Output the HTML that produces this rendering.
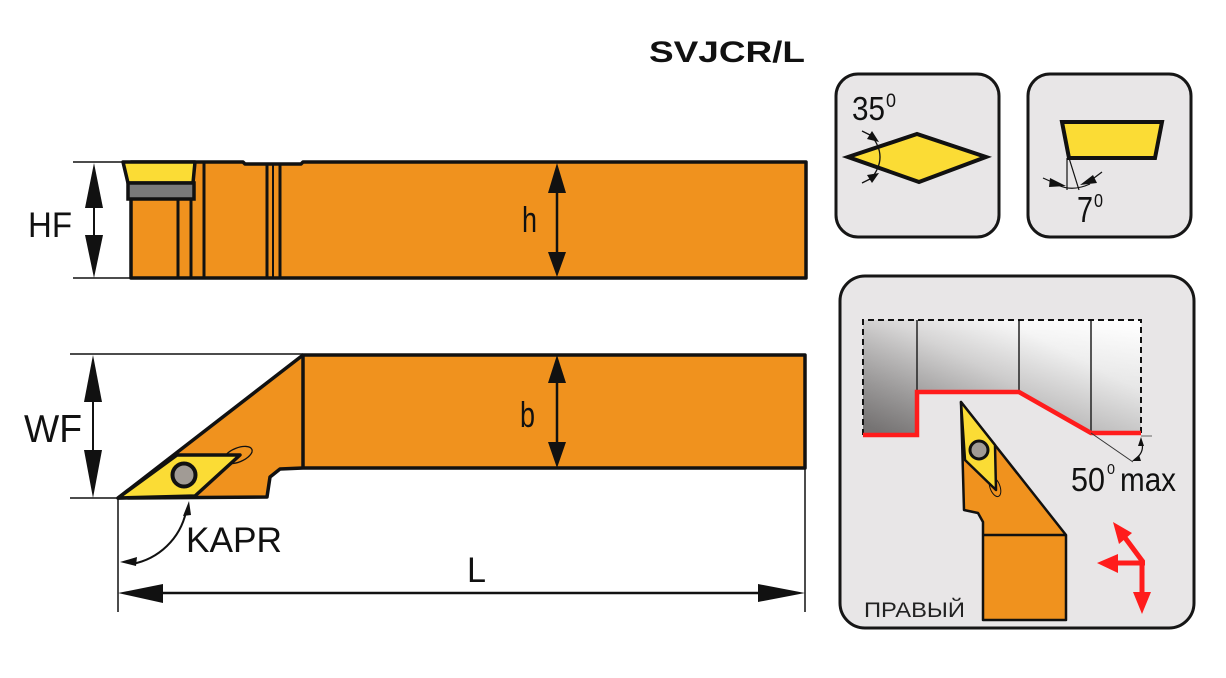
<!DOCTYPE html>
<html><head><meta charset="utf-8"><style>
html,body{margin:0;padding:0;background:#fff;}
svg{display:block;}
text{font-family:"Liberation Sans",sans-serif;}
</style></head><body>
<svg width="1226" height="678" viewBox="0 0 1226 678" xmlns="http://www.w3.org/2000/svg">
<defs>
<linearGradient id="gw" x1="0" y1="0.9" x2="1" y2="0.1">
<stop offset="0" stop-color="#858282"/>
<stop offset="0.2" stop-color="#a6a4a4"/>
<stop offset="0.5" stop-color="#dad9d9"/>
<stop offset="0.75" stop-color="#f8f8f8"/>
<stop offset="1" stop-color="#ffffff"/>
</linearGradient>
<linearGradient id="gv" x1="0" y1="0" x2="0" y2="1">
<stop offset="0" stop-color="#000" stop-opacity="0"/>
<stop offset="1" stop-color="#000" stop-opacity="0.12"/>
</linearGradient>
</defs>

<!-- Title -->
<text x="649" y="62" font-size="30" font-weight="bold" textLength="156" lengthAdjust="spacingAndGlyphs" fill="#111">SVJCR/L</text>

<!-- ===== Side view ===== -->
<polygon points="131,162 243,162 245,164 301,164 303,162 806,162 806,278 131,278" fill="#f0921e" stroke="#111" stroke-width="3.5" stroke-linejoin="round"/>
<polygon points="123,162 195,162 193,183 128,183" fill="#fbdc35" stroke="#111" stroke-width="3.5" stroke-linejoin="round"/>
<rect x="128" y="183" width="66" height="16" fill="#7a7a7a" stroke="#111" stroke-width="3.5"/>
<line x1="178" y1="199" x2="178" y2="278" stroke="#111" stroke-width="3"/>
<line x1="191" y1="199" x2="191" y2="278" stroke="#111" stroke-width="3"/>
<line x1="204" y1="163" x2="204" y2="278" stroke="#111" stroke-width="3"/>
<line x1="267" y1="163" x2="267" y2="278" stroke="#111" stroke-width="3"/>
<line x1="273" y1="163" x2="273" y2="278" stroke="#111" stroke-width="2"/>
<line x1="280" y1="163" x2="280" y2="278" stroke="#111" stroke-width="3"/>

<!-- h dim -->
<line x1="557" y1="185" x2="557" y2="258" stroke="#111" stroke-width="2.5"/>
<polygon points="557,163 548,193 566,193" fill="#111"/>
<polygon points="557,277 548,252 566,252" fill="#111"/>
<text x="522" y="232" font-size="36" textLength="15" lengthAdjust="spacingAndGlyphs" fill="#111">h</text>

<!-- HF dim -->
<line x1="73" y1="162" x2="123" y2="162" stroke="#111" stroke-width="1.5"/>
<line x1="73" y1="278" x2="131" y2="278" stroke="#111" stroke-width="1.5"/>
<line x1="94" y1="200" x2="94" y2="240" stroke="#111" stroke-width="2"/>
<polygon points="94,163 85,208 103,208" fill="#111"/>
<polygon points="94,278 85,235 103,235" fill="#111"/>
<text x="28" y="237" font-size="35" textLength="44" lengthAdjust="spacingAndGlyphs" fill="#111">HF</text>

<!-- ===== Top view ===== -->
<line x1="70" y1="354" x2="303" y2="354" stroke="#111" stroke-width="1.5"/>
<line x1="70" y1="498" x2="118" y2="498" stroke="#111" stroke-width="1.5"/>
<line x1="118" y1="498" x2="118" y2="612" stroke="#111" stroke-width="1.5"/>
<line x1="805" y1="468" x2="805" y2="612" stroke="#111" stroke-width="1.5"/>

<polygon points="118,498 303,355 805,355 805,468 303,468 280,469 270,477 267,497" fill="#f0921e" stroke="#111" stroke-width="3.5" stroke-linejoin="round"/>
<line x1="303" y1="355" x2="303" y2="468" stroke="#111" stroke-width="3.5"/>
<ellipse cx="238" cy="455" rx="15" ry="7" transform="rotate(-22 238 455)" fill="#f0921e" stroke="#111" stroke-width="1.3"/>
<polygon points="118,498 177,455 240,455 195,496" fill="#fbdc35" stroke="#111" stroke-width="3.5" stroke-linejoin="round"/>
<circle cx="184" cy="475" r="11.5" fill="#a19b95" stroke="#111" stroke-width="4"/>

<!-- b dim -->
<line x1="557" y1="375" x2="557" y2="448" stroke="#111" stroke-width="2.5"/>
<polygon points="557,355 548,383 566,383" fill="#111"/>
<polygon points="557,468 548,442 566,442" fill="#111"/>
<text x="520" y="427" font-size="36" textLength="15" lengthAdjust="spacingAndGlyphs" fill="#111">b</text>

<!-- WF dim -->
<line x1="93" y1="395" x2="93" y2="455" stroke="#111" stroke-width="2"/>
<polygon points="93,355 84,402 102,402" fill="#111"/>
<polygon points="93,498 84,450 102,450" fill="#111"/>
<text x="24" y="442" font-size="39" textLength="58" lengthAdjust="spacingAndGlyphs" fill="#111">WF</text>

<!-- KAPR -->
<path d="M186,512 A68,68 0 0 1 132,564" fill="none" stroke="#111" stroke-width="2"/>
<polygon points="189,501 183,516 191,515" fill="#111"/>
<polygon points="120,562 137,557 136,566" fill="#111"/>
<text x="186" y="552" font-size="35" textLength="96" lengthAdjust="spacingAndGlyphs" fill="#111">KAPR</text>

<!-- L dim -->
<line x1="155" y1="593" x2="765" y2="593" stroke="#111" stroke-width="2.5"/>
<polygon points="118,593 163,584 163,603" fill="#111"/>
<polygon points="805,593 758,584 758,602" fill="#111"/>
<text x="467" y="582" font-size="35" textLength="19" lengthAdjust="spacingAndGlyphs" fill="#111">L</text>

<!-- ===== Panel 1: 35 deg ===== -->
<rect x="836" y="74" width="163" height="163" rx="22" fill="#e8e6e7" stroke="#161616" stroke-width="3"/>
<polygon points="848,157 917,134 986,157 919,182" fill="#fbdc35" stroke="#111" stroke-width="4" stroke-linejoin="miter"/>
<path d="M870,134 Q890,157 870,180" fill="none" stroke="#111" stroke-width="1.3"/>
<line x1="862" y1="131" x2="872" y2="136" stroke="#111" stroke-width="1.3"/>
<polygon points="879,142 867,139 872,131" fill="#111"/>
<line x1="862" y1="183" x2="872" y2="178" stroke="#111" stroke-width="1.3"/>
<polygon points="879,173 867,175 872,183" fill="#111"/>
<text x="852" y="120" font-size="33" textLength="33" lengthAdjust="spacingAndGlyphs" fill="#111">35</text>
<text x="886" y="107" font-size="19" textLength="10" lengthAdjust="spacingAndGlyphs" fill="#111">0</text>

<!-- ===== Panel 2: 7 deg ===== -->
<rect x="1028" y="74" width="163" height="163" rx="22" fill="#e8e6e7" stroke="#161616" stroke-width="3"/>
<polygon points="1062,122 1162,122 1155,158 1069,158" fill="#fbdc35" stroke="#111" stroke-width="4"/>
<line x1="1067" y1="158" x2="1067" y2="190" stroke="#111" stroke-width="1.2"/>
<line x1="1069" y1="158" x2="1079" y2="190" stroke="#111" stroke-width="1.2"/>
<path d="M1058,185 Q1072,192 1090,184" fill="none" stroke="#111" stroke-width="1.2"/>
<line x1="1043" y1="178" x2="1052" y2="182" stroke="#111" stroke-width="1.2"/>
<polygon points="1066,186 1050,178 1049,187" fill="#111"/>
<line x1="1102" y1="172" x2="1094" y2="178" stroke="#111" stroke-width="1.2"/>
<polygon points="1080,185 1093,175 1097,183" fill="#111"/>
<text x="1077" y="222" font-size="36" textLength="16" lengthAdjust="spacingAndGlyphs" fill="#111">7</text>
<text x="1094" y="207" font-size="18" textLength="9" lengthAdjust="spacingAndGlyphs" fill="#111">0</text>

<!-- ===== Panel 3 ===== -->
<rect x="840" y="276" width="354" height="352" rx="25" fill="#e8e6e7" stroke="#161616" stroke-width="3"/>
<polygon points="863,320 1141,320 1141,433 1091,433 1019,392 917,392 917,435 863,435" fill="url(#gw)"/>
<polygon points="863,320 1141,320 1141,433 1091,433 1019,392 917,392 917,435 863,435" fill="url(#gv)"/>
<line x1="917" y1="320" x2="917" y2="392" stroke="#222" stroke-width="1.5"/>
<line x1="1019" y1="320" x2="1019" y2="392" stroke="#222" stroke-width="1.5"/>
<line x1="1091" y1="320" x2="1091" y2="433" stroke="#222" stroke-width="1.5"/>
<path d="M863,435 L863,320 L1141,320 L1141,433" fill="none" stroke="#111" stroke-width="2" stroke-dasharray="6,4"/>
<polyline points="863,435 917,435 917,392 1019,392 1091,433 1141,433" fill="none" stroke="#ff1c1c" stroke-width="4.5" stroke-linejoin="miter"/>
<line x1="1091" y1="433" x2="1133" y2="462" stroke="#333" stroke-width="1"/>
<line x1="1141" y1="436" x2="1152" y2="436" stroke="#666" stroke-width="1"/>
<path d="M1141,440 Q1146,452 1134,460" fill="none" stroke="#111" stroke-width="1.2"/>
<polygon points="1141,437 1138,446 1144,446" fill="#111"/>
<polygon points="1132,461 1139,455 1141,461" fill="#111"/>
<text x="1071" y="491" font-size="33" textLength="34" lengthAdjust="spacingAndGlyphs" fill="#111">50</text>
<text x="1107" y="474" font-size="15" textLength="8" lengthAdjust="spacingAndGlyphs" fill="#111">0</text>
<text x="1120" y="491" font-size="33" textLength="56" lengthAdjust="spacingAndGlyphs" fill="#111">max</text>

<!-- tool -->
<polygon points="961,402 1066,535 1066,620 983,620 983,522 978,513 964,510" fill="#f0921e" stroke="#111" stroke-width="2.5" stroke-linejoin="round"/>
<line x1="983" y1="535" x2="1066" y2="535" stroke="#111" stroke-width="2.5"/>
<ellipse cx="995" cy="487" rx="5" ry="10" transform="rotate(-20 995 487)" fill="#f0921e" stroke="#111" stroke-width="1"/>
<polygon points="961,402 995,445 996,490 965,460" fill="#fbdc35" stroke="#111" stroke-width="2.5" stroke-linejoin="round"/>
<circle cx="979" cy="450" r="9" fill="#a19b95" stroke="#111" stroke-width="3"/>

<!-- red arrows -->
<g stroke="#ff1c1c" stroke-width="5" fill="none">
<line x1="1142" y1="560" x2="1142" y2="596"/>
<line x1="1145" y1="563" x2="1114" y2="563"/>
<line x1="1143" y1="562" x2="1123" y2="535"/>
</g>
<polygon points="1133,592 1151,592 1142,614" fill="#ff1c1c"/>
<polygon points="1118,554 1118,573 1097,563" fill="#ff1c1c"/>
<polygon points="1113,522 1132,533 1119,544" fill="#ff1c1c"/>

<text x="864" y="617" font-size="21" textLength="101" lengthAdjust="spacingAndGlyphs" fill="#222">ПРАВЫЙ</text>
</svg>
</body></html>
